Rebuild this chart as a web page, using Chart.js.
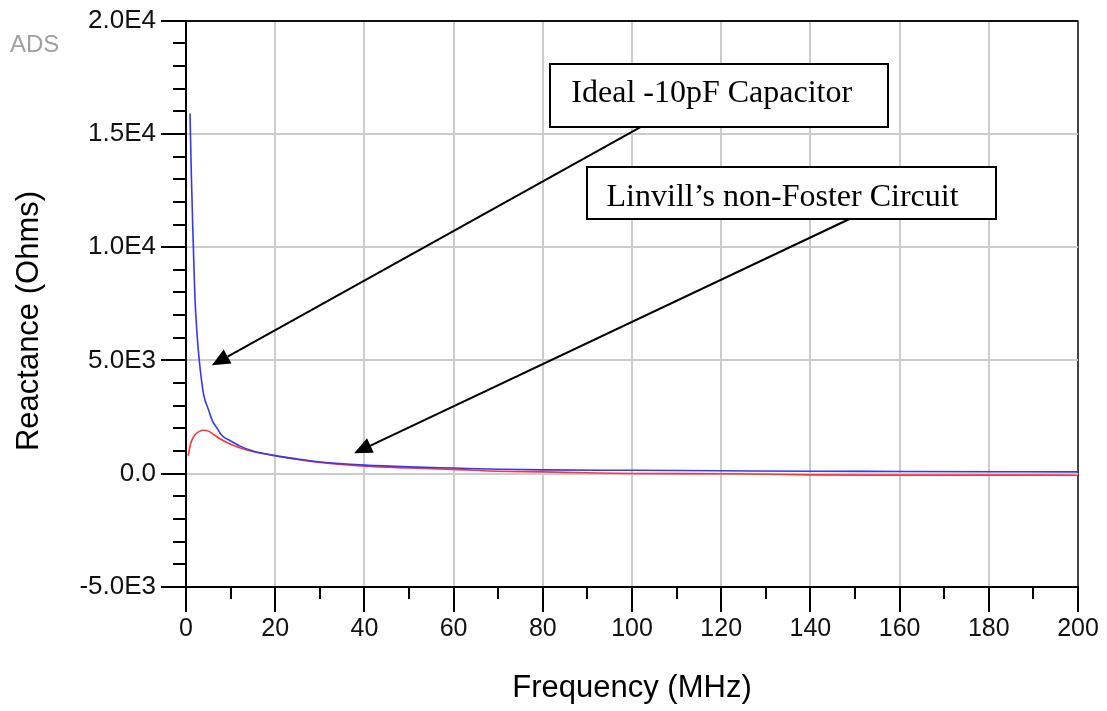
<!DOCTYPE html>
<html>
<head>
<meta charset="utf-8">
<script src="https://cdn.jsdelivr.net/npm/chart.js@4.4.1/dist/chart.umd.min.js"></script>
<style>
  html, body { margin: 0; padding: 0; background: #fff; }
  #wrap { width: 1107px; height: 711px; position: relative; }
</style>
</head>
<body>
<div id="wrap"><canvas id="reactance"></canvas></div>
<script>
// values: frequency in MHz, reactance in Ohms
var idealFreq = [0.9, 1.2, 1.5, 2, 2.5, 3, 3.5, 4, 5, 6, 7, 8, 10, 12, 15, 20, 25, 30, 40, 50, 60, 70, 80, 100, 120, 140, 160, 180, 200];
var idealX = [15900, 13200, 11000, 7800, 6100, 4950, 4100, 3450, 2850, 2300, 2000, 1700, 1450, 1230, 1000, 800, 650, 520, 380, 300, 250, 200, 170, 150, 130, 110, 100, 90, 80];

var linvillFreq = [0.5, 1, 1.5, 2, 3, 4, 5, 6, 7, 8, 10, 12, 15, 20, 25, 30, 40, 50, 60, 70, 80, 90, 100, 120, 140, 160, 180, 200];
var linvillX = [800, 1300, 1550, 1720, 1870, 1920, 1880, 1760, 1620, 1500, 1300, 1150, 980, 790, 630, 500, 330, 250, 190, 110, 80, 40, 10, 0, -50, -60, -60, -65];

var yTickValues = [-5000, 0, 5000, 10000, 15000, 20000];
var yTickLabels = ['-5.0E3', '0.0', '5.0E3', '1.0E4', '1.5E4', '2.0E4'];

// callout boxes and arrows, placed in data units
var notes = [
  { text: 'Ideal -10pF Capacitor', box: [81.7, 18100, 157.3, 15322], textAt: [86.4, 16799],
    from: [102.1, 15322], to: [5.8, 4784] },
  { text: 'Linvill\u2019s non-Foster Circuit', box: [90.0, 13558, 181.6, 11265], textAt: [94.3, 12205],
    from: [149.0, 11265], to: [37.7, 904] }
];

var sans = 'Liberation Sans, Arial, sans-serif';

function arrow(ctx, x1, y1, x2, y2) {
  var a = Math.atan2(y2 - y1, x2 - x1), len = 18, w = 8;
  var bx = x2 - len * Math.cos(a), by = y2 - len * Math.sin(a);
  ctx.beginPath();
  ctx.moveTo(x1, y1);
  ctx.lineTo(bx, by);
  ctx.stroke();
  ctx.beginPath();
  ctx.moveTo(x2, y2);
  ctx.lineTo(bx + w * Math.sin(a), by - w * Math.cos(a));
  ctx.lineTo(bx - w * Math.sin(a), by + w * Math.cos(a));
  ctx.closePath();
  ctx.fill();
}

var extras = {
  id: 'extras',
  afterDraw: function(chart) {
    var ctx = chart.ctx, xs = chart.scales.x, ys = chart.scales.y, area = chart.chartArea;
    ctx.save();

    // minor ticks
    ctx.strokeStyle = '#000';
    ctx.lineWidth = 2;
    ctx.beginPath();
    for (var v = 10; v < 200; v += 20) {
      var px = Math.round(xs.getPixelForValue(v));
      ctx.moveTo(px, area.bottom);
      ctx.lineTo(px, area.bottom + 12);
    }
    for (var w = -4000; w < 20000; w += 1000) {
      if (w % 5000 === 0) continue;
      var py = Math.round(ys.getPixelForValue(w));
      ctx.moveTo(area.left - 13, py);
      ctx.lineTo(area.left, py);
    }
    ctx.stroke();

    // callouts
    ctx.fillStyle = '#000';
    notes.forEach(function(n) {
      arrow(ctx, xs.getPixelForValue(n.from[0]), ys.getPixelForValue(n.from[1]),
        xs.getPixelForValue(n.to[0]), ys.getPixelForValue(n.to[1]));
    });
    notes.forEach(function(n) {
      var l = Math.round(xs.getPixelForValue(n.box[0])), t = Math.round(ys.getPixelForValue(n.box[1]));
      var r = Math.round(xs.getPixelForValue(n.box[2])), b = Math.round(ys.getPixelForValue(n.box[3]));
      ctx.fillStyle = '#fff';
      ctx.fillRect(l, t, r - l, b - t);
      ctx.strokeRect(l, t, r - l, b - t);
      ctx.fillStyle = '#000';
      ctx.font = '32px "Liberation Serif", "Times New Roman", serif';
      ctx.textAlign = 'left';
      ctx.textBaseline = 'middle';
      ctx.fillText(n.text, xs.getPixelForValue(n.textAt[0]), ys.getPixelForValue(n.textAt[1]));
    });

    // ADS watermark
    ctx.fillStyle = '#a0a0a0';
    ctx.font = '24px ' + sans;
    ctx.textBaseline = 'middle';
    ctx.fillText('ADS', 10, 45);
    ctx.restore();
  }
};

var ctx = document.getElementById('reactance').getContext('2d');
var chart = new Chart(ctx, {
  type: 'line',
  data: {
    datasets: [{
      label: 'Ideal -10pF Capacitor',
      data: idealFreq.map(function(f, i) { return { x: f, y: idealX[i] }; }),
      borderColor: '#3535ff',
      borderWidth: 1.6,
      pointRadius: 0,
      cubicInterpolationMode: 'monotone'
    }, {
      label: 'Linvill\u2019s non-Foster Circuit',
      data: linvillFreq.map(function(f, i) { return { x: f, y: linvillX[i] }; }),
      borderColor: '#ff3535',
      borderWidth: 1.6,
      pointRadius: 0,
      cubicInterpolationMode: 'monotone'
    }]
  },
  options: {
    responsive: true,
    maintainAspectRatio: false,
    animation: false,
    layout: { padding: { top: 20, right: 29, left: 0, bottom: 0 } },
    plugins: { legend: { display: false }, tooltip: { enabled: false } },
    scales: {
      x: {
        type: 'linear',
        min: 0,
        max: 200,
        ticks: { stepSize: 20, color: '#111', padding: 2, maxRotation: 0, font: { family: sans, size: 25 } },
        grid: {
          color: function(c) { return c.tick && c.tick.value === 200 ? '#444' : '#cccccc'; },
          lineWidth: 2,
          tickLength: 25,
          tickColor: '#000',
          tickWidth: 2
        },
        border: { color: '#000', width: 2 },
        title: { display: true, text: 'Frequency (MHz)', color: '#000', font: { family: sans, size: 31 }, padding: { top: 0, bottom: 4 } },
        afterFit: function(s) { s.height = 124; }
      },
      y: {
        min: -5000,
        max: 20000,
        afterBuildTicks: function(s) { s.ticks = yTickValues.map(function(v) { return { value: v }; }); },
        ticks: {
          color: '#111',
          padding: 5,
          font: { family: sans, size: 26 },
          callback: function(v) { return yTickLabels[yTickValues.indexOf(v)]; }
        },
        grid: {
          color: function(c) { return c.tick && c.tick.value === 20000 ? '#111' : '#cccccc'; },
          lineWidth: 2,
          tickLength: 25,
          tickColor: '#000',
          tickWidth: 2
        },
        border: { color: '#000', width: 2 },
        // trailing spaces push the rotated title down to sit where the original does
        title: { display: true, text: 'Reactance (Ohms)    ', color: '#000', font: { family: sans, size: 31 }, padding: { top: 11, bottom: 0 } },
        afterFit: function(s) { s.width = 186; }
      }
    }
  },
  plugins: [extras]
});
</script>
</body>
</html>
